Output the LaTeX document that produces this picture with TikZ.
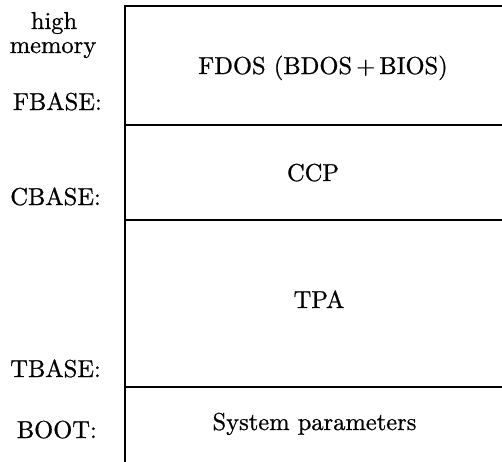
\documentclass[tikz,border=0pt]{standalone}
\usepackage{fontspec}
\setmainfont{lmroman10-regular.otf}[FakeBold=0.8]
\begin{document}
\begin{tikzpicture}[x=1pt,y=-1pt,
  lbl/.style={font=\fontsize{24.5}{28}\selectfont, inner sep=0pt},
  wall/.style={line width=1.6pt, line cap=rect}]
\useasboundingbox (0,0) rectangle (502,461);
% frame coordinates
\coordinate (topL) at (125,6);
\coordinate (topR) at (503,6);
\coordinate (botL) at (125,462);
\coordinate (fL) at (125,125);
\coordinate (fR) at (503,125);
\coordinate (cL) at (125,220);
\coordinate (cR) at (503,220);
\coordinate (tL) at (125,387);
\coordinate (tR) at (503,387);
\draw[wall] (topR) -- (topL) -- (botL);
\draw[wall] (fL) -- (fR);
\draw[wall] (cL) -- (cR);
\draw[wall] (tL) -- (tR);
% region texts
\node[lbl, anchor=base] (fdos) at (323,74) {FDOS (BDOS\,+\,BIOS)};
\node[lbl, anchor=base] (ccp) at (313,181) {CCP};
\node[lbl, anchor=base] (tpa) at (319,308) {TPA};
\node[lbl, anchor=base] (sys) at (314.5,430) {System parameters};
% address labels
\node[lbl, anchor=base] (high) at (54,29) {high};
\node[lbl, anchor=base] (mem) at (53,53) {memory};
\node[lbl, anchor=base east] (fbase) at (102,110) {FBASE:};
\node[lbl, anchor=base east] (cbase) at (101,205) {CBASE:};
\node[lbl, anchor=base east] (tbase) at (101,377) {TBASE:};
\node[lbl, anchor=base east] (boot) at (97,438) {BOOT:};
\end{tikzpicture}
\end{document}
